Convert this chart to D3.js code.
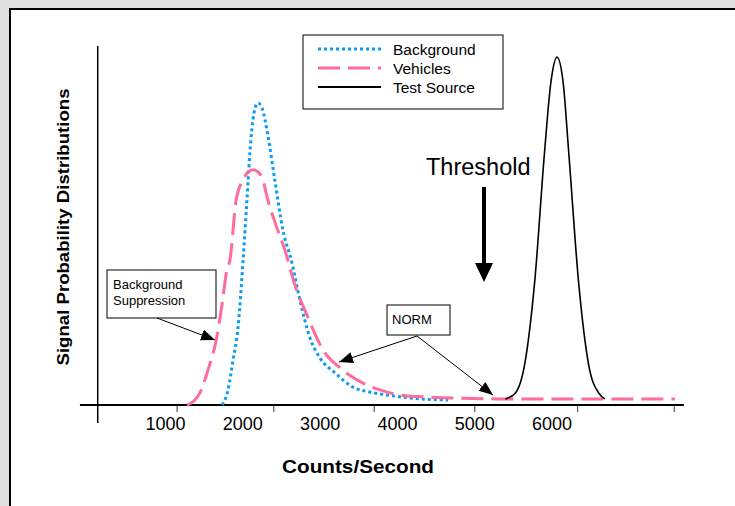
<!DOCTYPE html>
<html>
<head>
<meta charset="utf-8">
<script src="https://cdn.jsdelivr.net/npm/d3@7"></script>
<style>
  body { margin: 0; background: #e1e1e1; }
  svg { display: block; font-family: "Liberation Sans", Arial, sans-serif; }
</style>
</head>
<body>
<script>
// values: [counts/second, relative probability]
var background = [[1740,0],[1815,0.042],[1880,0.125],[1945,0.217],[2010,0.404],[2060,0.571],
    [2110,0.738],[2165,0.827],[2205,0.841],[2255,0.827],[2330,0.752],[2420,0.627],[2525,0.487],
    [2640,0.398],[2745,0.292],[2875,0.187],[3005,0.131],[3200,0.089],[3430,0.05],[3650,0.036],
    [3870,0.028],[4300,0.017],[4660,0.014]];
var vehicles = [[1285,0],[1450,0.033],[1555,0.097],[1670,0.189],[1740,0.284],[1800,0.376],
    [1840,0.404],[1920,0.571],[2010,0.627],[2075,0.649],[2140,0.655],[2205,0.649],[2265,0.627],
    [2330,0.571],[2435,0.501],[2550,0.432],[2680,0.334],[2835,0.251],[3045,0.153],[3265,0.103],
    [3560,0.061],[3780,0.042],[4040,0.028],[4425,0.022],[4815,0.019],[5330,0.017],[6110,0.017],
    [6880,0.017],[7595,0.017]];
var testSource = [[5400,0.017],[5530,0.033],[5650,0.111],[5780,0.34],[5910,0.708],[5990,0.897],
    [6070,0.969],[6150,0.897],[6220,0.708],[6350,0.34],[6480,0.111],[6610,0.033],[6690,0.017]];
var tickLabels = [1000, 2000, 3000, 4000, 5000, 6000];
var tickMarks = [1150, 2400, 3700, 5000, 6330, 7580];
var legendItems = ["Background", "Vehicles", "Test Source"];

var W = 735, H = 506;
var svg = d3.select("body").append("svg").attr("width", W).attr("height", H);

// white panel
svg.append("rect").attr("x", 10).attr("y", 9).attr("width", W).attr("height", H)
    .attr("fill", "#fff").attr("stroke", "#000").attr("stroke-width", 2);

var x = d3.scaleLinear().domain([1000, 6000]).range([165, 551.6]);
var y = d3.scaleLinear().domain([0, 1]).range([405, 46]);

// y axis line (runs a little below the x axis)
svg.append("line").attr("x1", x(130)).attr("x2", x(130))
    .attr("y1", y(1)).attr("y2", y(-0.05))
    .attr("stroke", "#000").attr("stroke-width", 1.5);

// x axis: tick marks
var axisMarks = svg.append("g").attr("transform", "translate(0," + y(0) + ")")
    .call(d3.axisBottom(x).tickValues(tickMarks).tickFormat("").tickSize(7).tickSizeOuter(0));
axisMarks.select(".domain").remove();
axisMarks.selectAll(".tick line").attr("stroke", "#555").attr("stroke-width", 1.2);

svg.append("line").attr("x1", x(-100)).attr("x2", x(7710))
    .attr("y1", y(0)).attr("y2", y(0)).attr("stroke", "#000").attr("stroke-width", 2);

// x axis: labels (not lined up with the marks in the original)
var axisLabels = svg.append("g").attr("transform", "translate(0," + y(0) + ")")
    .call(d3.axisBottom(x).tickValues(tickLabels).tickFormat(d3.format("d")).tickSize(0).tickPadding(12));
axisLabels.select(".domain").remove();
axisLabels.selectAll("text").attr("font-size", 18).attr("fill", "#000")
    .attr("font-family", "Liberation Sans, Arial, sans-serif");

var line = d3.line().x(d => x(d[0])).y(d => y(d[1])).curve(d3.curveMonotoneX);

svg.append("path").datum(background).attr("d", line).attr("fill", "none")
    .attr("stroke", "#0a9cf5").attr("stroke-width", 3).attr("stroke-dasharray", "3 3");
svg.append("path").datum(vehicles).attr("d", line).attr("fill", "none")
    .attr("stroke", "#ff6b9c").attr("stroke-width", 3).attr("stroke-dasharray", "22 8");
svg.append("path").datum(testSource).attr("d", line).attr("fill", "none")
    .attr("stroke", "#000").attr("stroke-width", 1.6);

// axis titles
svg.append("text").attr("x", 358).attr("y", 473).attr("text-anchor", "middle")
    .attr("font-size", 19).attr("font-weight", "bold")
    .attr("textLength", 152).attr("lengthAdjust", "spacingAndGlyphs").text("Counts/Second");
svg.append("text").attr("transform", "translate(69,227) rotate(-90)").attr("text-anchor", "middle")
    .attr("font-size", 17).attr("font-weight", "bold")
    .attr("textLength", 277).attr("lengthAdjust", "spacingAndGlyphs")
    .text("Signal Probability Distributions");

// legend
var lg = svg.append("g");
lg.append("rect").attr("x", 303).attr("y", 35).attr("width", 200).attr("height", 74)
    .attr("fill", "#fff").attr("stroke", "#000").attr("stroke-width", 1);
var styles = [
    {c: "#0a9cf5", w: 3, dash: "3 3"},
    {c: "#ff6b9c", w: 3, dash: "22 8"},
    {c: "#000", w: 2, dash: null}
];
legendItems.forEach(function(name, i) {
    var yy = 49 + i * 19;
    lg.append("line").attr("x1", 318).attr("x2", 381).attr("y1", yy).attr("y2", yy)
        .attr("stroke", styles[i].c).attr("stroke-width", styles[i].w)
        .attr("stroke-dasharray", styles[i].dash);
    lg.append("text").attr("x", 393).attr("y", yy + 6).attr("font-size", 15.5).text(name);
});

// arrow markers
var defs = svg.append("defs");
defs.append("marker").attr("id", "arr").attr("viewBox", "0 0 10 10")
    .attr("refX", 10).attr("refY", 5).attr("markerWidth", 14).attr("markerHeight", 14)
    .attr("markerUnits", "userSpaceOnUse").attr("orient", "auto")
    .append("path").attr("d", "M0,1 L10,5 L0,9 Z").attr("fill", "#000");

// threshold
svg.append("text").attr("x", 426).attr("y", 175).attr("font-size", 23.5).text("Threshold");
svg.append("line").attr("x1", 484).attr("x2", 484).attr("y1", 187).attr("y2", 266)
    .attr("stroke", "#000").attr("stroke-width", 4);
svg.append("path").attr("d", "M475,263 L493,263 L484,282 Z").attr("fill", "#000");

// Background Suppression note
svg.append("rect").attr("x", 107).attr("y", 270).attr("width", 109).attr("height", 48)
    .attr("fill", "#fff").attr("stroke", "#000").attr("stroke-width", 1);
svg.append("text").attr("x", 113).attr("y", 289).attr("font-size", 13).text("Background");
svg.append("text").attr("x", 113).attr("y", 305).attr("font-size", 13).text("Suppression");
svg.append("line").attr("x1", 157).attr("y1", 318).attr("x2", 215).attr("y2", 340)
    .attr("stroke", "#000").attr("stroke-width", 1).attr("marker-end", "url(#arr)");

// NORM note
svg.append("rect").attr("x", 387).attr("y", 305).attr("width", 63).attr("height", 30)
    .attr("fill", "#fff").attr("stroke", "#000").attr("stroke-width", 1);
svg.append("text").attr("x", 392).attr("y", 324).attr("font-size", 13).text("NORM");
svg.append("line").attr("x1", 417).attr("y1", 336).attr("x2", 339).attr("y2", 362)
    .attr("stroke", "#000").attr("stroke-width", 1).attr("marker-end", "url(#arr)");
svg.append("line").attr("x1", 417).attr("y1", 336).attr("x2", 493).attr("y2", 395)
    .attr("stroke", "#000").attr("stroke-width", 1).attr("marker-end", "url(#arr)");
</script>
</body>
</html>
